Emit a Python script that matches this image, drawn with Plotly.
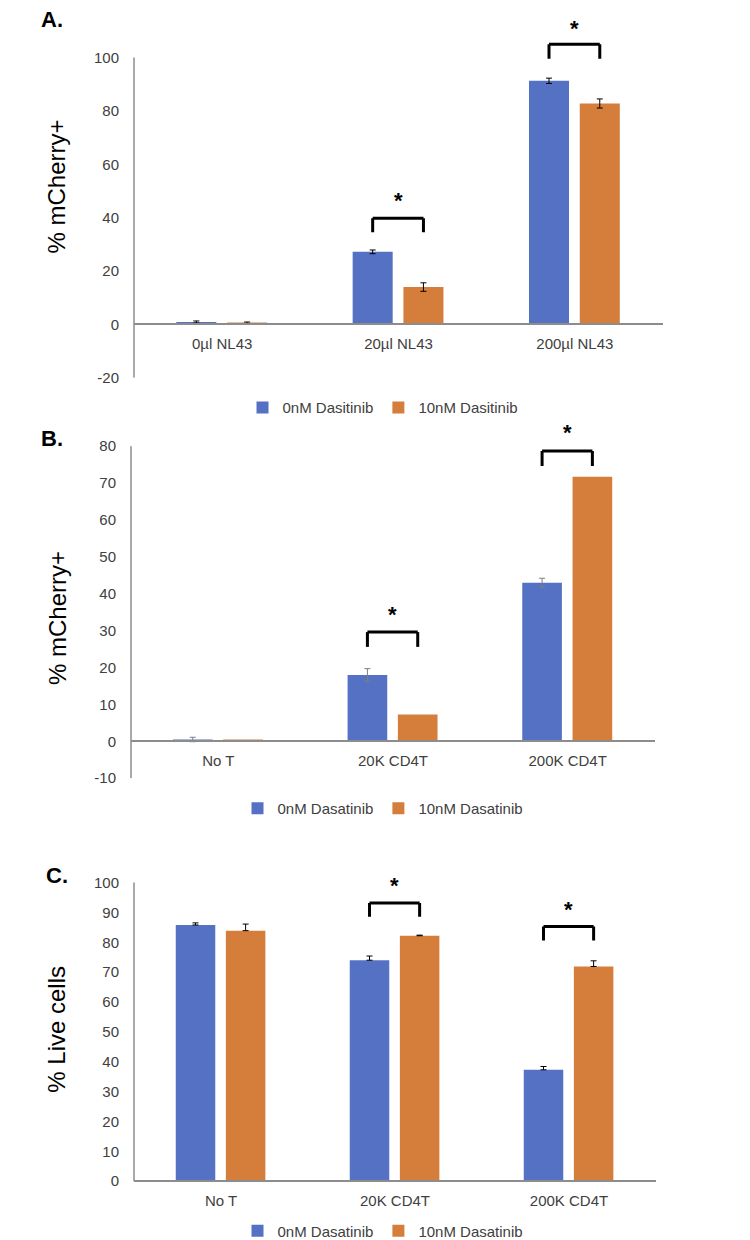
import plotly.graph_objects as go

# ---- data ----
cats_a = ["0µl NL43", "20µl NL43", "200µl NL43"]
a_0nm = [0.9, 27.2, 91.3]
a_0nm_err = [0.4, 0.7, 1.0]
a_10nm = [0.6, 14.0, 82.8]
a_10nm_err = [0.3, 1.6, 1.7]
a_names = ["0nM Dasitinib", "10nM Dasitinib"]

cats_bc = ["No T", "20K CD4T", "200K CD4T"]
b_0nm = [0.5, 18.0, 43.0]
b_0nm_err = [0.6, 1.7, 1.2]
b_10nm = [0.5, 7.3, 71.7]
b_10nm_err = None  # no error bars visible

c_0nm = [85.8, 74.0, 37.3]
c_0nm_err = [0.7, 1.4, 1.1]
c_10nm = [83.9, 82.2, 71.9]
c_10nm_err = [2.2, 0.2, 1.9]
bc_names = ["0nM Dasatinib", "10nM Dasatinib"]

# significance brackets: (category index, leg bottom, bracket top, star y)
sig_a = [(1, 34.5, 39.8, 46.3), (2, 99.6, 105.0, 111.0)]
sig_b = [(1, 25.6, 29.6, 34.3), (2, 74.6, 78.7, 83.6)]
sig_c = [(1, 88.6, 93.2, 98.9), (2, 80.6, 85.3, 91.1)]

BLUE = "#5571C3"
ORANGE = "#D57D3A"
FONT = "Liberation Sans, Arial, sans-serif"
W, H = 750, 1240


def py(p):
    return 1 - p / H


def px(p):
    return p / W


# panel geometry in pixels: x left/right, pixel of y=0, px per unit, y range
panels = [
    dict(xl=126, xr=655, y0=319.0, ppu=2.69, rng=(-20, 115), tick_max=100, dtick=20),
    dict(xl=123, xr=647, y0=739.3, ppu=3.72, rng=(-10, 86), tick_max=80, dtick=10),
    dict(xl=126, xr=648, y0=1182.7, ppu=3.01, rng=(0, 104), tick_max=100, dtick=10),
]

fig = go.Figure()

datasets = [
    (cats_a, a_0nm, a_0nm_err, a_10nm, a_10nm_err, a_names, "black", False, sig_a),
    (cats_bc, b_0nm, b_0nm_err, b_10nm, b_10nm_err, bc_names, "#7f7f7f", False, sig_b),
    (cats_bc, c_0nm, c_0nm_err, c_10nm, c_10nm_err, bc_names, "black", True, sig_c),
]

bar_w = 0.227
off_blue = -0.26
off_orange = 0.028
ctr_blue = off_blue + bar_w / 2
ctr_orange = off_orange + bar_w / 2

legend_y = [403, 807, 1233]
shapes = []
annotations = []

for i, (cats, v0, e0, v1, e1, names, ecol, plus_only, sig) in enumerate(datasets):
    n = "" if i == 0 else str(i + 1)
    xs = list(range(len(cats)))
    leg = "legend" + n
    for vals, errs, name, col, off in [(v0, e0, names[0], BLUE, off_blue),
                                      (v1, e1, names[1], ORANGE, off_orange)]:
        if errs is None:
            err = dict(visible=False)
        else:
            err = dict(type="data", array=errs, color=ecol, thickness=1, width=3, visible=True)
            if plus_only:
                err["symmetric"] = False
                err["arrayminus"] = [0] * len(errs)
        fig.add_trace(go.Bar(
            x=xs, y=vals, name=name, marker_color=col, marker_line_width=0,
            width=bar_w, offset=off, error_y=err,
            xaxis="x" + n, yaxis="y" + n, legend=leg,
        ))

    p = panels[i]
    bottom_px = p["y0"] - p["rng"][0] * p["ppu"]
    top_px = p["y0"] - p["rng"][1] * p["ppu"]
    tickvals = list(range(p["rng"][0], p["tick_max"] + 1, p["dtick"]))

    fig.layout["xaxis" + n] = dict(
        domain=[px(p["xl"]), px(p["xr"])], range=[-0.5, len(cats) - 0.5],
        tickvals=xs, ticktext=cats, showgrid=False, zeroline=False,
        showline=True, linecolor="#8c8c8c", linewidth=1.5, ticks="",
        anchor="free", position=py(p["y0"]), ticklabelstandoff=6,
        tickfont=dict(family=FONT, size=15, color="#404040"),
    )
    fig.layout["yaxis" + n] = dict(
        domain=[py(bottom_px), py(top_px)], range=list(p["rng"]),
        tickvals=tickvals, ticktext=[str(v) for v in tickvals],
        showgrid=False, zeroline=False, showline=False,
        ticks="", ticklabelstandoff=14, anchor="x" + n,
        tickfont=dict(family=FONT, size=15, color="#404040"),
    )
    # y axis line only spanning the ticked range
    shapes.append(dict(type="line", xref="x" + n + " domain", yref="y" + n,
                       x0=0, x1=0, y0=p["rng"][0], y1=p["tick_max"],
                       line=dict(color="#8c8c8c", width=1.5)))

    for idx, leg_y, top_y, star_y in sig:
        xa, xb = idx + ctr_blue, idx + ctr_orange
        for x0, y0, x1, y1 in [(xa, leg_y, xa, top_y), (xa, top_y, xb, top_y),
                               (xb, top_y, xb, leg_y)]:
            shapes.append(dict(type="line", xref="x" + n, yref="y" + n,
                               x0=x0, y0=y0, x1=x1, y1=y1,
                               line=dict(color="black", width=3)))
        annotations.append(dict(x=(xa + xb) / 2, y=star_y, xref="x" + n, yref="y" + n,
                                text="<b>*</b>", showarrow=False,
                                xanchor="center", yanchor="middle",
                                font=dict(family=FONT, size=22, color="black")))

    fig.layout[leg] = dict(
        orientation="h", x=0.5, xanchor="center", y=py(legend_y[i]), yanchor="middle",
        font=dict(family=FONT, size=15, color="#404040"), itemwidth=30,
        bgcolor="rgba(0,0,0,0)", traceorder="normal",
    )

# panel letters and y titles
for label, (lx, ly) in zip(["A.", "B.", "C."], [(44, 12), (44, 434), (49, 875)]):
    annotations.append(dict(x=px(lx), y=py(ly), xref="paper", yref="paper",
                            text="<b>" + label + "</b>", showarrow=False,
                            xanchor="center", yanchor="middle",
                            font=dict(family=FONT, size=22, color="black")))
for title, ty in zip(["% mCherry+", "% mCherry+", "% Live cells"], [180, 615, 1029]):
    annotations.append(dict(x=px(49), y=py(ty), xref="paper", yref="paper",
                            text=title, textangle=-90, showarrow=False,
                            xanchor="center", yanchor="middle",
                            font=dict(family=FONT, size=24, color="black")))

fig.update_layout(
    width=W, height=H, margin=dict(l=0, r=0, t=0, b=0),
    plot_bgcolor="white", paper_bgcolor="white",
    shapes=shapes, annotations=annotations, barmode="overlay",
)

fig.write_html("out.html")
